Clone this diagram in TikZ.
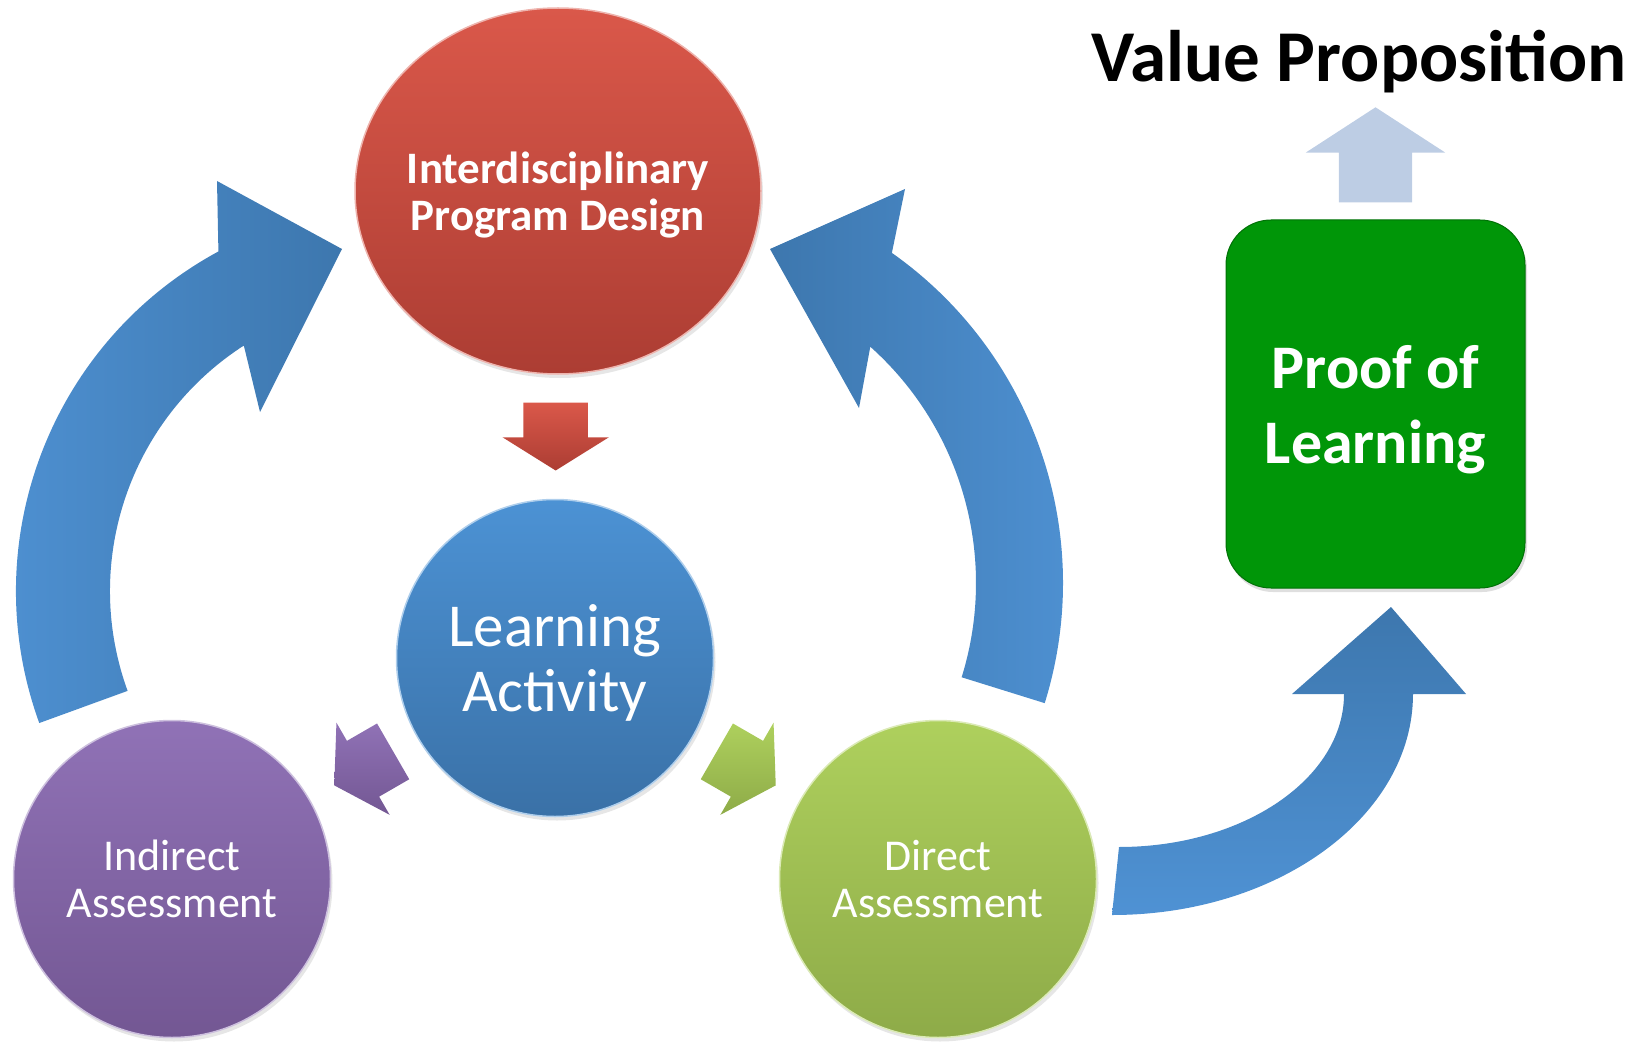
\documentclass[tikz,border=0pt]{standalone}
\usepackage{fontspec}
\setmainfont{Carlito}
\usetikzlibrary{positioning,calc,shapes.geometric,shapes.arrows,shadows}

\definecolor{bandlight}{RGB}{79,146,212}
\definecolor{banddark}{RGB}{61,119,174}
\definecolor{redtop}{RGB}{218,88,74}
\definecolor{redbot}{RGB}{172,61,51}
\definecolor{bluetop}{RGB}{76,146,212}
\definecolor{bluebot}{RGB}{58,113,167}
\definecolor{purpletop}{RGB}{144,114,182}
\definecolor{purplebot}{RGB}{115,87,147}
\definecolor{greentop}{RGB}{174,208,93}
\definecolor{greenbot}{RGB}{142,171,72}
\definecolor{proofgreen}{RGB}{0,150,8}
\definecolor{valueblue}{RGB}{189,205,228}

\tikzset{
  bubble/.style={circle, minimum size=317pt, inner sep=0pt, align=center,
    text=white, top color=#1top, bottom color=#1bot,
    draw=white!55!#1top, line width=1.5pt,
    drop shadow={opacity=0.2, shadow xshift=2pt, shadow yshift=-4pt}},
  stub/.style={single arrow, anchor=tip, inner xsep=0pt, inner ysep=32pt,
    minimum height=68pt, minimum width=106pt, single arrow head extend=21pt,
    single arrow tip angle=116, top color=#1top, bottom color=#1bot},
  band/.style={left color=bandlight, right color=banddark},
}

\begin{document}
\begin{tikzpicture}[x=1pt, y=-1pt]
  \useasboundingbox (0,0) rectangle (1652,1043);

  \node[bubble=red, ellipse, minimum width=406pt, minimum height=366pt,
        inner xsep=-30pt, text depth=0pt,
        font=\bfseries\fontsize{45}{47}\selectfont] (design) at (558,191)
        {Interdisciplinary\\Program Design};
  \node[bubble=blue, text depth=0pt, font=\fontsize{61}{65}\selectfont] (activity) at (555,658)
        {Learning\\Activity};
  \node[bubble=purple, font=\fontsize{44}{47}\selectfont] (indirect) at (172,879)
        {Indirect\\Assessment};
  \node[bubble=green, font=\fontsize{44}{47}\selectfont] (direct) at (938,879)
        {Direct\\Assessment};

  \node[stub=red, rotate=270]    (todo)  at ($(design.south)!0.5!(activity.north)!34pt!(activity.north)$) {};
  \node[stub=purple, rotate=210] (toind) at ($(activity)!0.5!(indirect)!34pt!(indirect)$) {};
  \node[stub=green, rotate=330]  (todir) at ($(activity)!0.5!(direct)!34pt!(direct)$) {};

  \coordinate (leftc)  at (402,591);
  \coordinate (rightc) at (659,583);
  \path[band] ($(leftc)+(160:386)$) arc[start angle=160, end angle=241.6, radius=386]
        -- (217,181) -- (342,249) -- (260,412)
        -- ($(leftc)+(237.2:292)$) arc[start angle=237.2, end angle=160, radius=292]
        -- cycle;
  \path[left color=banddark, right color=bandlight]
        ($(rightc)+(17.3:404)$) arc[start angle=17.3, end angle=-54.8, radius=404]
        -- (905,189) -- (770,249) -- (859,408)
        -- ($(rightc)+(-48.2:317)$) arc[start angle=-48.2, end angle=17.3, radius=317]
        -- cycle;

  \node[rectangle, rounded corners=45pt, minimum width=299pt, minimum height=368pt,
        fill=proofgreen, draw=proofgreen!75!black, line width=1pt, text=white,
        align=center, text depth=0pt, font=\bfseries\fontsize{62}{75}\selectfont,
        drop shadow={opacity=0.25, shadow xshift=2pt, shadow yshift=-4pt}]
        (proof) at (1375.5,404) {Proof of\\Learning};

  \path[top color=banddark, bottom color=bandlight]
        (1119,847) arc[start angle=90, end angle=0, x radius=225, y radius=153]
        -- (1292,694) -- (1391,607) -- (1466,694) -- (1413,694)
        arc[start angle=0, end angle=90, x radius=301, y radius=221]
        -- cycle;

  \node[single arrow, rotate=90, anchor=tail, inner xsep=0pt, inner ysep=36.5pt,
        fill=valueblue, minimum height=95pt, minimum width=139pt,
        single arrow head extend=33pt, single arrow tip angle=114]
        (lift) at ($(proof.north)+(0,-17)$) {};
  \node[anchor=base, font=\bfseries\fontsize{73}{80}\selectfont]
        (value) at (1359,82) {Value Proposition};
\end{tikzpicture}
\end{document}
